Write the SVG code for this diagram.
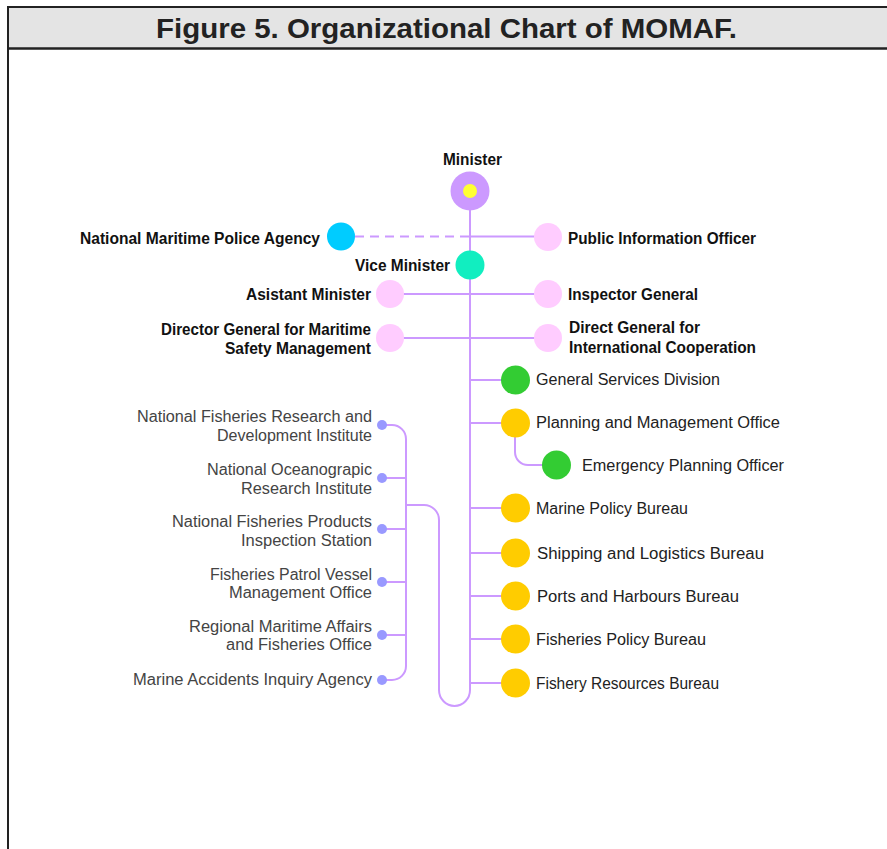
<svg xmlns="http://www.w3.org/2000/svg" width="887" height="849" viewBox="0 0 887 849">
<style>
.ln{fill:none;stroke:#cc99ff;stroke-width:2}
.b{font-family:"Liberation Sans",Arial,sans-serif;font-weight:bold;font-size:16px;fill:#111}
.n{font-family:"Liberation Sans",Arial,sans-serif;font-size:16px;fill:#222}
.g{font-family:"Liberation Sans",Arial,sans-serif;font-size:16px;fill:#444}
.e{text-anchor:end}
.pink{fill:#ffccff}
.grn{fill:#33cc33}
.yel{fill:#ffcc00}
.dot{fill:#9999ff}
</style>
<rect x="0" y="0" width="887" height="849" fill="#fff"/>
<g id="frame">
<rect x="8" y="7" width="880" height="41.5" fill="#e4e4e4"/>
<line x1="7" y1="7" x2="887" y2="7" stroke="#222" stroke-width="2"/>
<line x1="7" y1="48.5" x2="887" y2="48.5" stroke="#222" stroke-width="2.5"/>
<line x1="8" y1="6" x2="8" y2="849" stroke="#222" stroke-width="2"/>
<text x="156" y="38" font-family="'Liberation Sans',Arial,sans-serif" font-weight="bold" font-size="27.5" fill="#222" textLength="581" lengthAdjust="spacingAndGlyphs">Figure 5. Organizational Chart of MOMAF.</text>
</g>
<g id="connectors">
<line class="ln" x1="355" y1="236.5" x2="470" y2="236.5" stroke-dasharray="9,6"/>
<line class="ln" x1="470" y1="236.5" x2="540" y2="236.5"/>
<path class="ln" d="M470,209 V690 A15.5,16 0 0 1 439,690 V520 A15,15 0 0 0 424,505 H406"/>
<line class="ln" x1="390" y1="294" x2="548" y2="294"/>
<line class="ln" x1="390" y1="338" x2="548" y2="338"/>
<line class="ln" x1="470" y1="380" x2="505" y2="380"/>
<line class="ln" x1="470" y1="423" x2="505" y2="423"/>
<line class="ln" x1="470" y1="508" x2="505" y2="508"/>
<line class="ln" x1="470" y1="553" x2="505" y2="553"/>
<line class="ln" x1="470" y1="596" x2="505" y2="596"/>
<line class="ln" x1="470" y1="639" x2="505" y2="639"/>
<line class="ln" x1="470" y1="683" x2="505" y2="683"/>
<path class="ln" d="M515,437 V452 A13,13 0 0 0 528,465 H545"/>
<path class="ln" d="M382,425 H392 A14,14 0 0 1 406,439 V666 A14,14 0 0 1 392,680 H382"/>
<line class="ln" x1="382" y1="478" x2="406" y2="478"/>
<line class="ln" x1="382" y1="529" x2="406" y2="529"/>
<line class="ln" x1="382" y1="582" x2="406" y2="582"/>
<line class="ln" x1="382" y1="635" x2="406" y2="635"/>
</g>
<g id="minister">
<circle cx="470" cy="191" r="19.5" fill="#cc99ff"/>
<circle cx="470" cy="191" r="7" fill="#ffff33"/>
<text class="b" x="472.5" y="165" text-anchor="middle" textLength="59" lengthAdjust="spacingAndGlyphs">Minister</text>
</g>
<g id="nmpa">
<circle cx="341" cy="236.5" r="14" fill="#00ccff"/>
<text class="b e" x="320" y="244" textLength="240" lengthAdjust="spacingAndGlyphs">National Maritime Police Agency</text>
</g>
<g id="pio">
<circle class="pink" cx="548" cy="237" r="14"/>
<text class="b" x="568" y="244" textLength="188" lengthAdjust="spacingAndGlyphs">Public Information Officer</text>
</g>
<g id="vice">
<circle cx="470" cy="265" r="14.5" fill="#11eec0"/>
<text class="b e" x="450" y="271" textLength="95" lengthAdjust="spacingAndGlyphs">Vice Minister</text>
</g>
<g id="asistant">
<circle class="pink" cx="390" cy="294" r="14"/>
<text class="b e" x="371" y="300" textLength="125" lengthAdjust="spacingAndGlyphs">Asistant Minister</text>
</g>
<g id="inspector">
<circle class="pink" cx="548" cy="294" r="14"/>
<text class="b" x="568" y="300" textLength="130" lengthAdjust="spacingAndGlyphs">Inspector General</text>
</g>
<g id="dgmsm">
<circle class="pink" cx="390" cy="338" r="14"/>
<text class="b e" x="371" y="335" textLength="210" lengthAdjust="spacingAndGlyphs">Director General for Maritime</text>
<text class="b e" x="371" y="354" textLength="146" lengthAdjust="spacingAndGlyphs">Safety Management</text>
</g>
<g id="dgic">
<circle class="pink" cx="548" cy="338" r="14"/>
<text class="b" x="569" y="333" textLength="131" lengthAdjust="spacingAndGlyphs">Direct General for</text>
<text class="b" x="569" y="353" textLength="187" lengthAdjust="spacingAndGlyphs">International Cooperation</text>
</g>
<g id="gsd">
<circle class="grn" cx="515.5" cy="380" r="14.5"/>
<text class="n" x="536" y="385" textLength="184" lengthAdjust="spacingAndGlyphs">General Services Division</text>
</g>
<g id="pmo">
<circle class="yel" cx="515.5" cy="423" r="14.5"/>
<text class="n" x="536" y="428" textLength="244" lengthAdjust="spacingAndGlyphs">Planning and Management Office</text>
</g>
<g id="epo">
<circle class="grn" cx="556.5" cy="465" r="14.5"/>
<text class="n" x="582" y="471" textLength="202" lengthAdjust="spacingAndGlyphs">Emergency Planning Officer</text>
</g>
<g id="mpb">
<circle class="yel" cx="515.5" cy="508" r="14.5"/>
<text class="n" x="536" y="514" textLength="152" lengthAdjust="spacingAndGlyphs">Marine Policy Bureau</text>
</g>
<g id="slb">
<circle class="yel" cx="515.5" cy="553" r="14.5"/>
<text class="n" x="537" y="559" textLength="227" lengthAdjust="spacingAndGlyphs">Shipping and Logistics Bureau</text>
</g>
<g id="phb">
<circle class="yel" cx="515.5" cy="596" r="14.5"/>
<text class="n" x="537" y="602" textLength="202" lengthAdjust="spacingAndGlyphs">Ports and Harbours Bureau</text>
</g>
<g id="fpb">
<circle class="yel" cx="515.5" cy="639" r="14.5"/>
<text class="n" x="536" y="645" textLength="170" lengthAdjust="spacingAndGlyphs">Fisheries Policy Bureau</text>
</g>
<g id="frb">
<circle class="yel" cx="515.5" cy="683" r="14.5"/>
<text class="n" x="536" y="689" textLength="183" lengthAdjust="spacingAndGlyphs">Fishery Resources Bureau</text>
</g>
<g id="nfrdi">
<circle class="dot" cx="382" cy="425" r="5"/>
<text class="g e" x="372" y="422" textLength="235" lengthAdjust="spacingAndGlyphs">National Fisheries Research and</text>
<text class="g e" x="372" y="441" textLength="155" lengthAdjust="spacingAndGlyphs">Development Institute</text>
</g>
<g id="nori">
<circle class="dot" cx="382" cy="478" r="5"/>
<text class="g e" x="372" y="475" textLength="165" lengthAdjust="spacingAndGlyphs">National Oceanograpic</text>
<text class="g e" x="372" y="494" textLength="131" lengthAdjust="spacingAndGlyphs">Research Institute</text>
</g>
<g id="nfpis">
<circle class="dot" cx="382" cy="529" r="5"/>
<text class="g e" x="372" y="527" textLength="200" lengthAdjust="spacingAndGlyphs">National Fisheries Products</text>
<text class="g e" x="372" y="546" textLength="131" lengthAdjust="spacingAndGlyphs">Inspection Station</text>
</g>
<g id="fpvmo">
<circle class="dot" cx="382" cy="582" r="5"/>
<text class="g e" x="372" y="580" textLength="162" lengthAdjust="spacingAndGlyphs">Fisheries Patrol Vessel</text>
<text class="g e" x="372" y="598" textLength="143" lengthAdjust="spacingAndGlyphs">Management Office</text>
</g>
<g id="rmafo">
<circle class="dot" cx="382" cy="635" r="5"/>
<text class="g e" x="372" y="632" textLength="183" lengthAdjust="spacingAndGlyphs">Regional Maritime Affairs</text>
<text class="g e" x="372" y="650" textLength="146" lengthAdjust="spacingAndGlyphs">and Fisheries Office</text>
</g>
<g id="maia">
<circle class="dot" cx="382" cy="680" r="5"/>
<text class="g e" x="372" y="685" textLength="239" lengthAdjust="spacingAndGlyphs">Marine Accidents Inquiry Agency</text>
</g>
</svg>
